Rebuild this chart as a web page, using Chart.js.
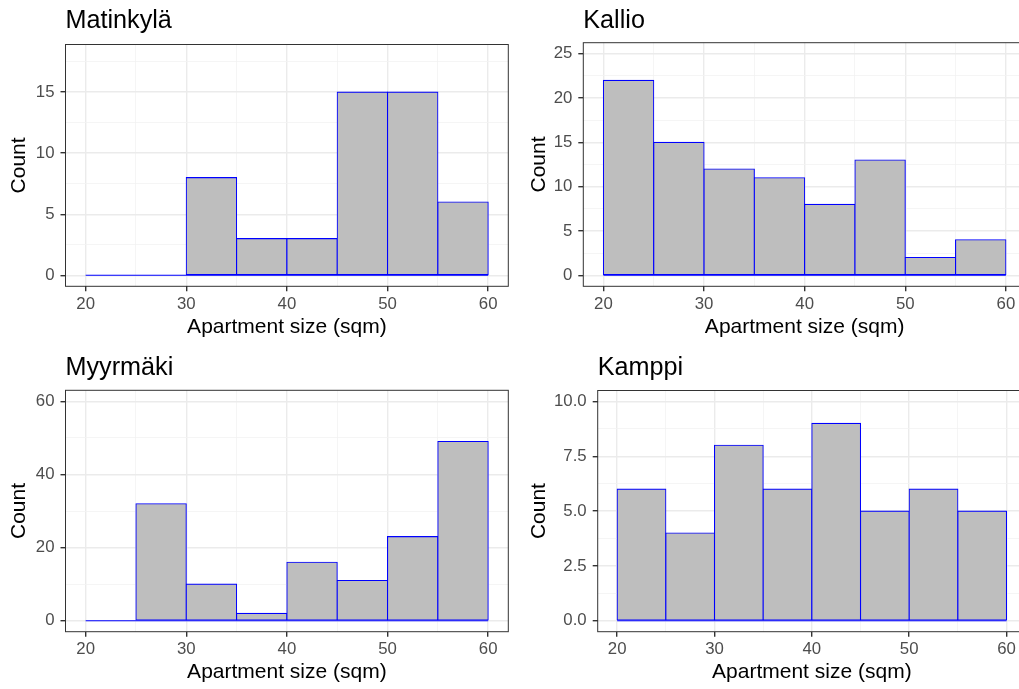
<!DOCTYPE html>
<html>
<head>
<meta charset="utf-8">
<script src="https://cdn.jsdelivr.net/npm/chart.js@4"></script>
<style>
html, body { margin:0; padding:0; background:#ffffff; overflow:hidden; width:1019px; height:689px; }
canvas { position:absolute; }
</style>
</head>
<body>
<canvas id="c1"></canvas>
<canvas id="c2"></canvas>
<canvas id="c3"></canvas>
<canvas id="c4"></canvas>
<script>
// ---------------- data ----------------
const binEdges = [20, 25, 30, 35, 40, 45, 50, 55, 60];
const matinkylaCounts = [0, 0, 8, 3, 3, 15, 15, 6];
const kallioCounts = [22, 15, 12, 11, 8, 13, 2, 4];
const myyrmakiCounts = [0, 32, 10, 2, 16, 11, 23, 49];
const kamppiCounts = [6, 4, 8, 6, 9, 5, 6, 5];
const districtNames = ['Matinkylä', 'Kallio', 'Myyrmäki', 'Kamppi'];
const xTickLabels = ['20', '30', '40', '50', '60'];
const xMinorBreaks = [25, 35, 45, 55];
const matinkylaYTicks = ['0', '5', '10', '15'];
const matinkylaYMinor = [2.5, 7.5, 12.5, 17.5];
const kallioYTicks = ['0', '5', '10', '15', '20', '25'];
const kallioYMinor = [2.5, 7.5, 12.5, 17.5, 22.5];
const myyrmakiYTicks = ['0', '20', '40', '60'];
const myyrmakiYMinor = [10, 30, 50];
const kamppiYTicks = ['0.0', '2.5', '5.0', '7.5', '10.0'];
const kamppiYMinor = [1.25, 3.75, 6.25, 8.75];
const xAxisTitle = 'Apartment size (sqm)';
const yAxisTitle = 'Count';

// ---------------- layout / style ----------------
const FONT = "'Liberation Sans', Arial, Helvetica, sans-serif";
Chart.defaults.font.family = FONT;
const TITLE_SIZE = 25.2, AXIS_TITLE_SIZE = 21, TICK_SIZE = 16.8;
const MID = 0.3465; // canvas 'middle' baseline offset (em)

const panels = [
  { id:'c1', name:districtNames[0], counts:matinkylaCounts, yTicks:matinkylaYTicks, yMinor:matinkylaYMinor, yMin:-0.9, yMax:18.9,
    canvas:{l:0, t:0, w:519, h:345}, area:{l:65.5, t:44.5, r:508.3, b:286.3}, titleBase:30, xTitleBase:334.3, yTitleBase:26.7 },
  { id:'c2', name:districtNames[1], counts:kallioCounts, yTicks:kallioYTicks, yMinor:kallioYMinor, yMin:-1.25, yMax:26.25,
    canvas:{l:519, t:0, w:510, h:345}, area:{l:583.3, t:42.7, r:1026, b:286.3}, titleBase:30, xTitleBase:334.3, yTitleBase:546 },
  { id:'c3', name:districtNames[2], counts:myyrmakiCounts, yTicks:myyrmakiYTicks, yMinor:myyrmakiYMinor, yMin:-3, yMax:63,
    canvas:{l:0, t:345, w:519, h:344}, area:{l:65.5, t:390.3, r:508.3, b:631.7}, titleBase:376.7, xTitleBase:679.3, yTitleBase:26.7 },
  { id:'c4', name:districtNames[3], counts:kamppiCounts, yTicks:kamppiYTicks, yMinor:kamppiYMinor, yMin:-0.5, yMax:10.5,
    canvas:{l:519, t:345, w:510, h:344}, area:{l:597.7, t:390.5, r:1026, b:631.7}, titleBase:376.7, xTitleBase:679.3, yTitleBase:546 }
];

const framePlugin = {
  id: 'frame',
  afterDatasetsDraw(chart) {
    const a = chart.chartArea, ctx = chart.ctx;
    ctx.save();
    ctx.strokeStyle = '#333333';
    ctx.lineWidth = 1;
    ctx.strokeRect(a.left, a.top, a.right - a.left, a.bottom - a.top);
    ctx.restore();
  }
};

function labelFor(list, v) {
  const i = list.findIndex(t => Math.abs(Number(t) - v) < 1e-9);
  return i >= 0 ? list[i] : '';
}

panels.forEach(p => {
  const cv = document.getElementById(p.id);
  cv.width = p.canvas.w; cv.height = p.canvas.h;
  cv.style.left = p.canvas.l + 'px'; cv.style.top = p.canvas.t + 'px';
  cv.style.width = p.canvas.w + 'px'; cv.style.height = p.canvas.h + 'px';

  const titleLH = TITLE_SIZE * 1.2;
  const titlePadTop = (p.titleBase - MID * TITLE_SIZE) - p.canvas.t - titleLH / 2;
  const titlePadBottom = (p.area.t - p.canvas.t) - titleLH - titlePadTop;
  const axLH = AXIS_TITLE_SIZE * 1.2;
  const xTitlePadBottom = (p.canvas.t + p.canvas.h) - (p.xTitleBase - MID * AXIS_TITLE_SIZE) - axLH / 2;
  const yTitlePadTop = (p.yTitleBase - MID * AXIS_TITLE_SIZE) - p.canvas.l - axLH / 2;

  const xMajor = xTickLabels.map(Number);
  const yMajor = p.yTicks.map(Number);

  new Chart(cv, {
    type: 'bar',
    data: {
      datasets: [
        { type:'line', data:[{x:binEdges[0], y:0}, {x:binEdges[binEdges.length-1], y:0}],
          borderColor:'#0000ff', borderWidth:1.1, pointRadius:0, order:0 },
        { type:'bar', data:p.counts.map((c, i) => ({x:(binEdges[i] + binEdges[i+1]) / 2, y:c})),
          backgroundColor:'#bebebe', borderColor:'#0000ff', borderWidth:1.1, borderSkipped:false,
          inflateAmount:0.55, barPercentage:1, categoryPercentage:1, order:1 }
      ]
    },
    plugins: [framePlugin],
    options: {
      responsive:false, animation:false,
      layout: { padding: { left:0, top:0, bottom:0, right:(p.canvas.l + p.canvas.w) - p.area.r } },
      plugins: {
        legend: { display:false },
        tooltip: { enabled:false },
        title: { display:true, text:p.name, align:'start', fullSize:false, color:'#000000',
                 font:{ size:TITLE_SIZE, weight:'normal', lineHeight:1.2 },
                 padding:{ top:titlePadTop, bottom:titlePadBottom } }
      },
      scales: {
        x: {
          type:'linear', min:18, max:62, offset:false,
          afterBuildTicks: s => { s.ticks = xMajor.concat(xMinorBreaks).sort((a,b)=>a-b).map(v => ({value:v})); },
          afterFit: s => { s.height = (p.canvas.t + p.canvas.h) - p.area.b; },
          ticks: { autoSkip:false, maxRotation:0, color:'#4d4d4d', padding:3, font:{ size:TICK_SIZE },
                   callback: v => labelFor(xTickLabels, v) },
          grid: { offset:false, tickLength:5,
                  lineWidth: c => xMajor.includes(c.tick.value) ? 1.4 : 0.8,
                  color: c => xMajor.includes(c.tick.value) ? '#ebebeb' : '#f2f2f2',
                  tickColor: c => xMajor.includes(c.tick.value) ? '#333333' : 'rgba(0,0,0,0)' },
          border: { display:false },
          title: { display:true, text:xAxisTitle, color:'#000000', font:{ size:AXIS_TITLE_SIZE, lineHeight:1.2 },
                   padding:{ top:0, bottom:xTitlePadBottom } }
        },
        y: {
          type:'linear', min:p.yMin, max:p.yMax,
          afterBuildTicks: s => { s.ticks = yMajor.concat(p.yMinor).sort((a,b)=>a-b).map(v => ({value:v})); },
          afterFit: s => { s.width = p.area.l - p.canvas.l; },
          ticks: { autoSkip:false, color:'#4d4d4d', padding:6, font:{ size:TICK_SIZE },
                   callback: v => labelFor(p.yTicks, v) },
          grid: { tickLength:5,
                  lineWidth: c => yMajor.includes(c.tick.value) ? 1.4 : 0.8,
                  color: c => yMajor.includes(c.tick.value) ? '#ebebeb' : '#f2f2f2',
                  tickColor: c => yMajor.includes(c.tick.value) ? '#333333' : 'rgba(0,0,0,0)' },
          border: { display:false },
          title: { display:true, text:yAxisTitle, color:'#000000', font:{ size:AXIS_TITLE_SIZE, lineHeight:1.2 },
                   padding:{ top:yTitlePadTop, bottom:0 } }
        }
      }
    }
  });
});
</script>
</body>
</html>
